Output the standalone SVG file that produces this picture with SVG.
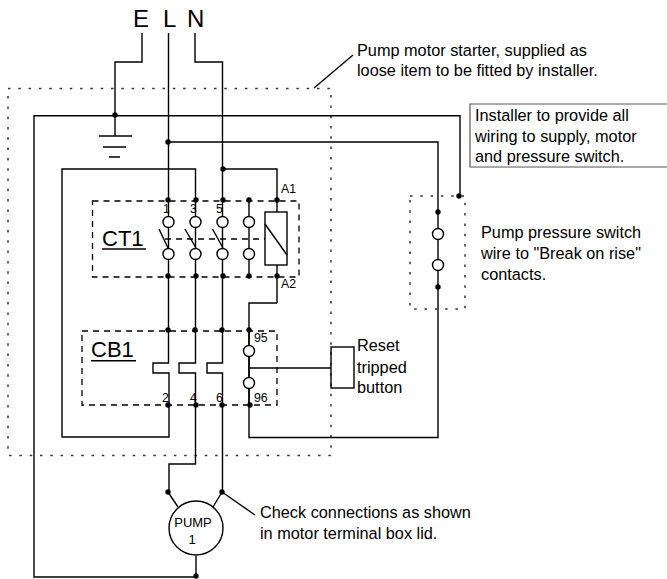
<svg xmlns="http://www.w3.org/2000/svg" width="667" height="579" viewBox="0 0 667 579">
<style>
text{font-family:"Liberation Sans",Arial,sans-serif;fill:#000}
.w{fill:none;stroke:#000;stroke-width:1.4}
.c{fill:#fff;stroke:#000;stroke-width:1.4}
.d{fill:#000}
.dash{fill:none;stroke:#000;stroke-width:1.3;stroke-dasharray:6 5}
.dot{fill:none;stroke:#333;stroke-width:1.5;stroke-dasharray:2.500 7.800}
.t{font-size:16.300px}
.s{font-size:12.300px}
.p{font-size:13px}
.b{font-size:24px}
.h{font-size:22px}
</style>
<rect width="667" height="579" fill="#fff"/>
<g id="enclosure"><path class="dot" d="M8 88.500H331V455.500H8Z"/></g>
<g id="connectors">
<path class="w" d="M142 33V62H115V136"/>
<path class="w" d="M168.500 33V363H153V373H169V437H62V169H195.500V363H179V373H195.500V464H169V492"/>
<path class="w" d="M195 33V62H222.500V363H207V373H222.500V492"/>
<path class="w" d="M460 196V115.700H34V577H196V556"/>
<path class="w" d="M168.500 142H438V437.500H249V303H277"/>
<path class="w" d="M222.500 169H277V212M277 265V303"/>
<path class="w" d="M249 200V276M249 330V405"/>
<path class="w" d="M168 492L178 507M222 492L213 507M222 492L255 515"/>
<path class="w" d="M249 368H331"/>
<path class="w" d="M314 88L353 55"/>
</g>
<g id="earth"><path class="w" d="M99 136H132M103 147H126M109 157H120"/></g>
<g id="CT1">
<rect class="dash" x="92.500" y="201" width="206.500" height="76"/>
<path class="dash" d="M165 239H265"/>
<path class="w" d="M159 229L168 248M185 229L196 248M212.500 229L223 248"/>
<rect x="265" y="212" width="22" height="53" class="c"/>
<path class="w" d="M265 224L287 255"/>
<circle class="c" cx="168.500" cy="222" r="5.500"/><circle class="c" cx="195.500" cy="222" r="5.500"/><circle class="c" cx="222.500" cy="222" r="5.500"/><circle class="c" cx="249" cy="222" r="5.500"/>
<circle class="c" cx="168.500" cy="254" r="5.500"/><circle class="c" cx="195.500" cy="254" r="5.500"/><circle class="c" cx="222.500" cy="254" r="5.500"/><circle class="c" cx="249" cy="254" r="5.500"/>
<text class="h" x="102" y="246">CT1</text><path class="w" d="M102 249H146"/>
<text class="s" x="163" y="213">1</text><text class="s" x="190" y="213">3</text><text class="s" x="216" y="213">5</text>
<text class="s" x="281" y="193">A1</text><text class="s" x="281" y="288">A2</text>
</g>
<g id="CB1">
<rect class="dash" x="82" y="331" width="195" height="74"/>
<circle class="c" cx="249" cy="351" r="5.500"/><circle class="c" cx="249" cy="383" r="5.500"/>
<text class="h" x="91" y="357">CB1</text><path class="w" d="M91 360.700H136"/>
<text class="s" x="162" y="402">2</text><text class="s" x="190" y="402">4</text><text class="s" x="216" y="402">6</text>
<text class="s" x="254" y="342">95</text><text class="s" x="254" y="402">96</text>
</g>
<g id="reset"><rect class="w" x="331" y="347" width="23" height="41"/><text class="t" x="357" y="351">Reset</text><text class="t" x="357" y="372.500">tripped</text><text class="t" x="357" y="393">button</text></g>
<g id="pressure-switch">
<path class="dot" d="M410 196H465V309H410Z"/>
<circle class="c" cx="438" cy="234" r="5.500"/><circle class="c" cx="438" cy="265" r="5.500"/>
<text class="t" x="481" y="238">Pump pressure switch</text><text class="t" x="481" y="259">wire to "Break on rise"</text><text class="t" x="481" y="280">contacts.</text>
</g>
<g id="pump"><circle class="c" cx="196" cy="528" r="27"/><text class="p" x="193" y="527" text-anchor="middle">PUMP</text><text class="p" x="192" y="543.500" text-anchor="middle">1</text></g>
<g id="dots">
<circle class="d" cx="115" cy="115" r="2.700"/><circle class="d" cx="168" cy="142" r="2.700"/><circle class="d" cx="223" cy="169" r="2.700"/><circle class="d" cx="459" cy="196" r="2.700"/>
<circle class="d" cx="168" cy="200" r="2.700"/><circle class="d" cx="196" cy="200" r="2.700"/><circle class="d" cx="223" cy="200" r="2.700"/><circle class="d" cx="249" cy="200" r="2.700"/><circle class="d" cx="277" cy="200" r="2.700"/>
<circle class="d" cx="168" cy="276" r="2.700"/><circle class="d" cx="196" cy="276" r="2.700"/><circle class="d" cx="223" cy="276" r="2.700"/><circle class="d" cx="249" cy="276" r="2.700"/><circle class="d" cx="277" cy="276" r="2.700"/>
<circle class="d" cx="168" cy="330" r="2.700"/><circle class="d" cx="195" cy="330" r="2.700"/><circle class="d" cx="222" cy="330" r="2.700"/><circle class="d" cx="249" cy="330" r="2.700"/>
<circle class="d" cx="168" cy="405" r="2.700"/><circle class="d" cx="196" cy="405" r="2.700"/><circle class="d" cx="222" cy="405" r="2.700"/><circle class="d" cx="250" cy="405" r="2.700"/>
<circle class="d" cx="168" cy="492" r="2.700"/><circle class="d" cx="222" cy="492" r="2.700"/><circle class="d" cx="196" cy="576" r="2.700"/>
<circle class="d" cx="438" cy="212" r="2.700"/><circle class="d" cx="438" cy="287" r="2.700"/>
</g>
<g id="labels">
<text class="b" x="133" y="27">E</text><text class="b" x="163" y="27">L</text><text class="b" x="187" y="27">N</text>
<text class="t" x="357" y="55.500">Pump motor starter, supplied as</text><text class="t" x="357" y="75.500">loose item to be fitted by installer.</text>
<text class="t" x="260" y="518">Check connections as shown</text><text class="t" x="260" y="539">in motor terminal box lid.</text>
</g>
<g id="installer-note">
<path d="M667 104H470V167H667" fill="none" stroke="#555" stroke-width="1.200"/>
<text class="t" x="475" y="121">Installer to provide all</text><text class="t" x="475" y="141.500">wiring to supply, motor</text><text class="t" x="475" y="162">and pressure switch.</text>
</g>
</svg>
